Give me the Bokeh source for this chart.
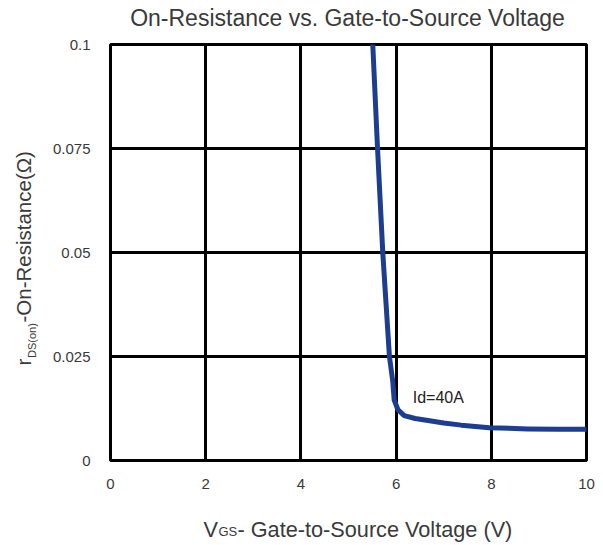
from bokeh.plotting import figure
from bokeh.models import Range1d, FixedTicker, Label
from bokeh.embed import file_html
from bokeh.resources import INLINE
import math

# ---- data ----
vgs = [5.51, 5.61, 5.72, 5.86, 5.93, 5.96, 6.04, 6.17, 6.40, 6.67, 7.00, 7.37, 7.96, 8.77, 9.40, 10.0]
rds = [0.100, 0.075, 0.050, 0.025, 0.019, 0.0145, 0.0122, 0.0108, 0.0101, 0.0096, 0.0090, 0.0085, 0.0079, 0.0076, 0.0075, 0.0075]
x_ticks = [0, 2, 4, 6, 8, 10]
x_tick_labels = ["0", "2", "4", "6", "8", "10"]
y_ticks = [0, 0.025, 0.05, 0.075, 0.1]
y_tick_labels = ["0", "0.025", "0.05", "0.075", "0.1"]
title_text = "On-Resistance vs. Gate-to-Source Voltage"
curve_label = "Id=40A"
x_label_parts = ["V", "GS", "- Gate-to-Source Voltage (V)"]
y_label_parts = ["r", "DS(on)", "-On-Resistance(\u03a9)"]

FONT = "Liberation Sans"
GREY = "#3a3a3a"
X0, Y0, XMAX, YMAX = 0, 0, 10, 0.1
FRAME_L, FRAME_B = 110, 460  # frame position in canvas pixels

p = figure(width=603, height=545, output_backend="svg", toolbar_location=None,
           x_range=Range1d(X0, XMAX), y_range=Range1d(Y0, YMAX), title=None,
           min_border_left=110, min_border_right=17, min_border_top=44, min_border_bottom=85)
p.background_fill_color = "white"
p.border_fill_color = "white"
p.outline_line_color = "black"
p.outline_line_width = 3

p.xaxis.ticker = FixedTicker(ticks=x_ticks)
p.yaxis.ticker = FixedTicker(ticks=y_ticks)
p.xaxis.major_label_overrides = {t: s for t, s in zip(x_ticks, x_tick_labels)}
p.yaxis.major_label_overrides = {t: s for t, s in zip(y_ticks, y_tick_labels)}
for ax in (p.xaxis, p.yaxis):
    ax.axis_line_color = None
    ax.major_tick_line_color = None
    ax.minor_tick_line_color = None
    ax.major_label_text_font = FONT
    ax.major_label_text_font_size = "15px"
    ax.major_label_text_color = GREY
p.xaxis.major_label_standoff = 12
p.yaxis.major_label_standoff = 14

p.xgrid.ticker = FixedTicker(ticks=x_ticks)
p.ygrid.ticker = FixedTicker(ticks=y_ticks)
for g in (p.xgrid, p.ygrid):
    g.grid_line_color = "black"
    g.grid_line_width = 3
    g.grid_line_alpha = 1

p.line(vgs, rds, line_color="#1d3e8e", line_width=5, line_join="round", line_cap="round")

p.add_layout(Label(x=6.35, y=0.0151, text=curve_label, text_font=FONT, text_font_size="16px",
                   text_color="#222222", text_baseline="middle"))


def lab(px, py, text, size, side, angle=0.0, align="left", anchor_x=X0, anchor_y=Y0):
    """Text centred (vertically) on a canvas pixel position, anchored to the frame's data
    origin. Placed in a side panel so it is not clipped to the frame."""
    ax_px = FRAME_L + (anchor_x - X0) / (XMAX - X0) * 476
    ay_px = FRAME_B - (anchor_y - Y0) / (YMAX - Y0) * 416
    p.add_layout(Label(x=anchor_x, y=anchor_y, x_offset=px - ax_px, y_offset=ay_px - py,
                       text=text, angle=angle, text_font=FONT, text_font_size=size,
                       text_color=GREY, text_align=align, text_baseline="middle"), side)


# title
lab(347, 17.5, title_text, "23px", "above", align="center", anchor_x=5, anchor_y=YMAX)
# x-axis label
lab(203, 528.5, x_label_parts[0], "21.7px", "right")
lab(218, 531, x_label_parts[1], "13px", "below")
lab(237, 528.5, x_label_parts[2], "21.7px", "below")
# y-axis label (rotated, reading upward)
a = math.pi / 2
lab(23, 365, y_label_parts[0], "20.5px", "below", angle=a)
lab(31, 357.5, y_label_parts[1], "11px", "left", angle=a)
lab(23, 322, y_label_parts[2], "20.5px", "left", angle=a)

open("out.html", "w").write(file_html(p, INLINE))
